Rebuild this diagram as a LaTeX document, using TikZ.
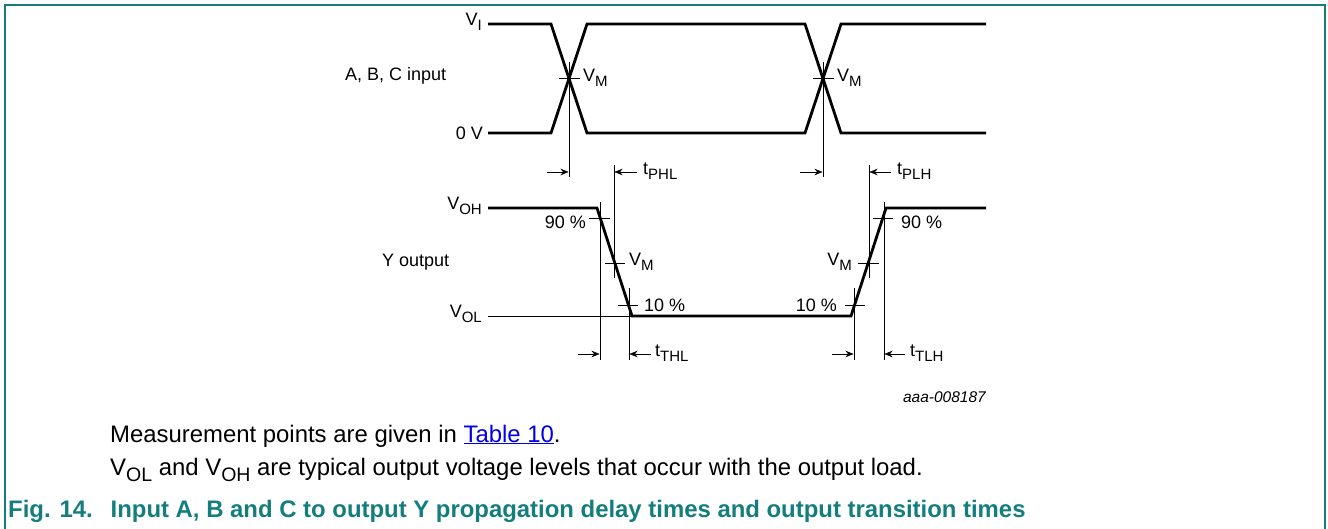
\documentclass[tikz,border=0pt]{standalone}
\usepackage{fontspec}
\setmainfont{Liberation Sans}
\usetikzlibrary{arrows.meta}
\definecolor{nxpteal}{RGB}{20,125,125}
\definecolor{thin}{RGB}{60,60,60}
\definecolor{linkblue}{RGB}{0,0,230}
\newcommand{\lowsub}[1]{\raisebox{-0.28em}{\fontsize{15}{15}\selectfont #1}}
\newcommand{\txtsub}[1]{\raisebox{-0.28em}{\fontsize{19.5}{19.5}\selectfont #1}}
\begin{document}
\begin{tikzpicture}[x=1pt,y=-1pt,
  wave/.style={line width=2.8pt,line join=miter,black},
  thinline/.style={line width=0.9pt,thin},
  meas/.style={line width=0.9pt,thin,-{Stealth[length=8pt,width=6.5pt]}},
  lbl/.style={font=\fontsize{18}{20}\selectfont,inner sep=0pt},
  foot/.style={font=\fontsize{23.9}{26}\selectfont,inner sep=0pt,anchor=base west}]
\useasboundingbox (0,0) rectangle (1328,529);
% frame
\draw[nxpteal,line width=2pt] (5,529) -- (5,5) -- (1325,5) -- (1325,529);
% ---------- input waveform ----------
\draw[wave] (488,24) -- (551,24) -- (587,133) -- (805,133) -- (841,24) -- (986,24);
\draw[wave] (488,133) -- (551,133) -- (587,24) -- (805,24) -- (841,133) -- (986,133);
\coordinate (x1) at (569,78.5);
\coordinate (x2) at (823,78.5);
\draw[thinline] (559,78.5) -- (580,78.5);
\draw[thinline] (813,78.5) -- (834,78.5);
\draw[thinline] (569,62) -- (569,177);
\draw[thinline] (823,62) -- (823,177);
\draw[thinline] (614,165) -- (614,278);
\draw[thinline] (869,165) -- (869,278);
\node[lbl,anchor=east] (vi) at (482,22) {V\lowsub{I}};
\node[lbl,anchor=east] (zv) at (483,133) {0 V};
\node[lbl,anchor=west] (abc) at (345,76) {A, B, C input};
\node[lbl,anchor=west] (vm1) at (583,78) {V\lowsub{M}};
\node[lbl,anchor=west] (vm2) at (837,78) {V\lowsub{M}};
% tPHL / tPLH
\coordinate (a1s) at (547,172); \coordinate (a1e) at (568.5,172);
\coordinate (a2s) at (637,172); \coordinate (a2e) at (614.5,172);
\coordinate (a3s) at (800,172); \coordinate (a3e) at (822.5,172);
\coordinate (a4s) at (891,172); \coordinate (a4e) at (869.5,172);
\draw[meas] (a1s) -- (a1e);
\draw[meas] (a2s) -- (a2e);
\draw[meas] (a3s) -- (a3e);
\draw[meas] (a4s) -- (a4e);
\node[lbl,anchor=west] (tphl) at (643,171) {t\lowsub{PHL}};
\node[lbl,anchor=west] (tplh) at (897,171) {t\lowsub{PLH}};
% ---------- output waveform ----------
\draw[thinline] (488,316) -- (632,316);
\draw[wave] (488,208) -- (597,208) -- (632,316) -- (851,316) -- (886,208) -- (986,208);
\node[lbl,anchor=east] (voh) at (482,206) {V\lowsub{OH}};
\node[lbl,anchor=east] (vol) at (482,314) {V\lowsub{OL}};
\node[lbl,anchor=west] (yout) at (382,262) {Y output};
% ticks falling edge
\draw[thinline] (589,218) -- (610,218);
\draw[thinline] (605,263) -- (625,263);
\draw[thinline] (618,305) -- (638,305);
% ticks rising edge
\draw[thinline] (873,218) -- (893,218);
\draw[thinline] (858,263) -- (879,263);
\draw[thinline] (845,305) -- (865,305);
% vertical reference lines
\draw[thinline] (600,202) -- (600,360);
\draw[thinline] (629,288) -- (629,360);
\draw[thinline] (854,288) -- (854,360);
\draw[thinline] (884,202) -- (884,360);
\node[lbl,anchor=east] (p90a) at (586,222) {90 \%};
\node[lbl,anchor=west] (vm3) at (629,262) {V\lowsub{M}};
\node[lbl,anchor=west] (p10a) at (644,305) {10 \%};
\node[lbl,anchor=west] (p90b) at (901,222) {90 \%};
\node[lbl,anchor=east] (vm4) at (852,262) {V\lowsub{M}};
\node[lbl,anchor=east] (p10b) at (837,305) {10 \%};
% tTHL / tTLH
\coordinate (b1s) at (578,354); \coordinate (b1e) at (599.5,354);
\coordinate (b2s) at (651,354); \coordinate (b2e) at (629.5,354);
\coordinate (b3s) at (832,354); \coordinate (b3e) at (853.5,354);
\coordinate (b4s) at (905,354); \coordinate (b4e) at (884.5,354);
\draw[meas] (b1s) -- (b1e);
\draw[meas] (b2s) -- (b2e);
\draw[meas] (b3s) -- (b3e);
\draw[meas] (b4s) -- (b4e);
\node[lbl,anchor=west] (tthl) at (655,353) {t\lowsub{THL}};
\node[lbl,anchor=west] (ttlh) at (910,353) {t\lowsub{TLH}};
% code
\node[inner sep=0pt,anchor=east,font=\fontsize{15.5}{17}\selectfont\itshape] (code) at (986,397) {aaa-008187};
% footer
\node[foot] (m1) at (110,442) {Measurement points are given in \textcolor{linkblue}{\underline{Table 10}}.};
\node[foot] (m2) at (110,475) {V\txtsub{OL} and V\txtsub{OH} are typical output voltage levels that occur with the output load.};
\node[foot,font=\fontsize{23.9}{26}\selectfont\bfseries,text=nxpteal] (cap) at (8,517) {Fig. 14.\hspace{0.75em}Input A, B and C to output Y propagation delay times and output transition times};
\end{tikzpicture}
\end{document}
